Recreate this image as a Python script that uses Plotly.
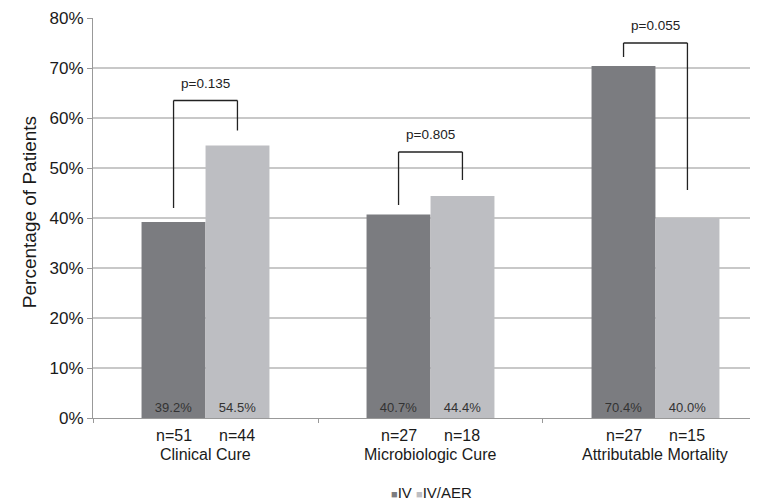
import plotly.graph_objects as go

categories = ["Clinical Cure", "Microbiologic Cure", "Attributable Mortality"]
series_names = ["IV", "IV/AER"]
iv_values = [39.2, 40.7, 70.4]
aer_values = [54.5, 44.4, 40.0]
iv_n = [51, 27, 27]
aer_n = [44, 18, 15]
p_labels = ["p=0.135", "p=0.805", "p=0.055"]
bracket_top = [63.5, 53.2, 75.0]
bracket_left_end = [42.0, 42.6, 72.2]
bracket_right_end = [57.5, 47.6, 45.6]
y_ticks = [0, 10, 20, 30, 40, 50, 60, 70, 80]

IV_COLOR = "#7b7c80"
AER_COLOR = "#bdbec2"
colors = [IV_COLOR, AER_COLOR]
FONT = "Liberation Sans, Arial, sans-serif"
TXT = "#1a1a1a"

BAR_W = 0.284
xs = list(range(len(categories)))

fig = go.Figure()
for name, vals, color in [(series_names[0], iv_values, IV_COLOR),
                          (series_names[1], aer_values, AER_COLOR)]:
    fig.add_trace(go.Bar(
        x=xs, y=vals, name=name, marker=dict(color=color, line=dict(width=0)),
        width=BAR_W, showlegend=False,
        text=[f"{v:.1f}%" for v in vals], textposition="inside",
        insidetextanchor="start", textangle=0,
        textfont=dict(size=13, color="#333333", family=FONT),
    ))

shapes = []
annotations = []
for i in xs:
    xl = i - BAR_W / 2
    xr = i + BAR_W / 2
    line = dict(color="#222222", width=1.3)
    shapes.append(dict(type="line", xref="x", yref="y", x0=xl, x1=xl,
                       y0=bracket_left_end[i], y1=bracket_top[i], line=line))
    shapes.append(dict(type="line", xref="x", yref="y", x0=xl, x1=xr,
                       y0=bracket_top[i], y1=bracket_top[i], line=line))
    shapes.append(dict(type="line", xref="x", yref="y", x0=xr, x1=xr,
                       y0=bracket_top[i], y1=bracket_right_end[i], line=line))
    annotations.append(dict(xref="x", yref="y", x=i, y=bracket_top[i],
                            text=p_labels[i], showarrow=False, yanchor="bottom",
                            yshift=8, font=dict(size=13.5, color="#222222", family=FONT)))
    annotations.append(dict(xref="x", yref="paper", x=xl, y=0, text=f"n={iv_n[i]}",
                            showarrow=False, yanchor="middle", yshift=-17,
                            font=dict(size=16, color=TXT, family=FONT)))
    annotations.append(dict(xref="x", yref="paper", x=xr, y=0, text=f"n={aer_n[i]}",
                            showarrow=False, yanchor="middle", yshift=-17,
                            font=dict(size=16, color=TXT, family=FONT)))
    annotations.append(dict(xref="x", yref="paper", x=i, y=0, text=categories[i],
                            showarrow=False, yanchor="middle", yshift=-36,
                            font=dict(size=16, color=TXT, family=FONT)))

annotations.append(dict(xref="paper", yref="paper", x=-0.096, y=0.515,
                        text="Percentage of Patients", textangle=-90,
                        showarrow=False, xanchor="center", yanchor="middle",
                        font=dict(size=19, color=TXT, family=FONT)))

legend_text = "&nbsp;".join(
    f"<span style='color:{c};font-size:11px'>■</span>{n}" for n, c in zip(series_names, colors)
)
annotations.append(dict(xref="paper", yref="paper", x=0.509, y=0, yshift=-74,
                        text=legend_text, showarrow=False,
                        xanchor="center", yanchor="middle",
                        font=dict(size=15, color=TXT, family=FONT)))

fig.update_layout(
    width=750, height=493,
    margin=dict(l=85, r=0, t=10, b=83, autoexpand=False),
    paper_bgcolor="white", plot_bgcolor="white",
    barmode="group", bargap=0.431, bargroupgap=0,
    font=dict(family=FONT, color=TXT),
    shapes=shapes, annotations=annotations,
    showlegend=False,
)
fig.update_xaxes(
    range=[-0.5, 2.4556], tickvals=[-0.5, 0.5, 1.5, 2.5], ticktext=["", "", "", ""],
    ticks="outside", ticklen=4, tickcolor="#999999", automargin=False,
    showline=True, linecolor="#999999", linewidth=1, showgrid=False, zeroline=False,
)
fig.update_yaxes(
    range=[0, 80], tickmode="array", tickvals=y_ticks,
    ticktext=[f"{v}%" for v in y_ticks], automargin=False,
    ticks="outside", ticklen=5, tickcolor="#999999",
    showline=True, linecolor="#999999", linewidth=1,
    showgrid=True, gridcolor="#c8c8c8", gridwidth=1.5, zeroline=False,
    tickfont=dict(size=17, color=TXT, family=FONT),
)

fig.write_html("out.html")
